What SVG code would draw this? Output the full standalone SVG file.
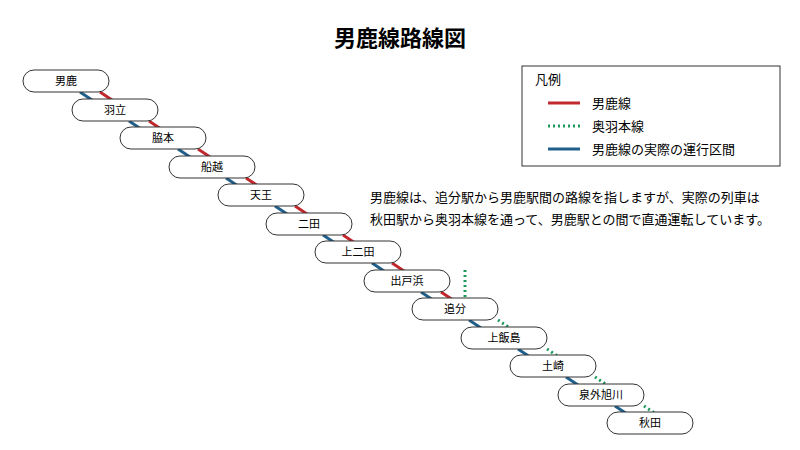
<svg xmlns="http://www.w3.org/2000/svg" width="800" height="450" viewBox="0 0 800 450">
<style>
text{font-family:"Noto Sans CJK JP","Noto Sans",sans-serif;fill:#000}
.n rect{fill:#fff;stroke:#333;stroke-width:1}
.n text{font-size:11px;text-anchor:middle}
.b{stroke:#1f5f8b;stroke-width:3}
.r{stroke:#c0282d;stroke-width:3}
.g{stroke:#1e9a5a;stroke-width:3;stroke-dasharray:2 3}
</style>
<rect width="800" height="450" fill="#fff"/>
<text x="400" y="46" font-size="22" font-weight="bold" text-anchor="middle">男鹿線路線図</text>
<g id="connectors">
<line class="b" x1="80" y1="92" x2="92" y2="100"/><line class="r" x1="100" y1="92" x2="112" y2="100"/>
<line class="b" x1="129" y1="121" x2="141" y2="129"/><line class="r" x1="149" y1="121" x2="161" y2="129"/>
<line class="b" x1="178" y1="149" x2="190" y2="157"/><line class="r" x1="198" y1="149" x2="210" y2="157"/>
<line class="b" x1="226" y1="178" x2="238" y2="186"/><line class="r" x1="246" y1="178" x2="258" y2="186"/>
<line class="b" x1="275" y1="206" x2="287" y2="214"/><line class="r" x1="295" y1="206" x2="307" y2="214"/>
<line class="b" x1="323" y1="235" x2="335" y2="243"/><line class="r" x1="343" y1="235" x2="355" y2="243"/>
<line class="b" x1="372" y1="263" x2="384" y2="271"/><line class="r" x1="392" y1="263" x2="404" y2="271"/>
<line class="b" x1="421" y1="292" x2="433" y2="300"/><line class="r" x1="441" y1="292" x2="453" y2="300"/>
<line class="g" x1="465" y1="270" x2="465" y2="298"/>
<line class="b" x1="469" y1="320" x2="481" y2="328"/><line class="g" x1="498" y1="320" x2="510" y2="328"/>
<line class="b" x1="518" y1="349" x2="530" y2="357"/><line class="g" x1="547" y1="349" x2="559" y2="357"/>
<line class="b" x1="566" y1="377" x2="578" y2="385"/><line class="g" x1="595" y1="377" x2="607" y2="385"/>
<line class="b" x1="615" y1="406" x2="627" y2="414"/><line class="g" x1="644" y1="406" x2="656" y2="414"/>
</g>
<g id="n0" class="n"><rect x="23" y="70" width="86" height="22" rx="11"/><text x="66" y="85">男鹿</text></g>
<g id="n1" class="n"><rect x="72" y="99" width="86" height="22" rx="11"/><text x="115" y="114">羽立</text></g>
<g id="n2" class="n"><rect x="120" y="127" width="86" height="22" rx="11"/><text x="163" y="142">脇本</text></g>
<g id="n3" class="n"><rect x="169" y="156" width="86" height="22" rx="11"/><text x="212" y="171">船越</text></g>
<g id="n4" class="n"><rect x="218" y="184" width="86" height="22" rx="11"/><text x="261" y="199">天王</text></g>
<g id="n5" class="n"><rect x="266" y="213" width="86" height="22" rx="11"/><text x="309" y="228">二田</text></g>
<g id="n6" class="n"><rect x="315" y="241" width="86" height="22" rx="11"/><text x="358" y="256">上二田</text></g>
<g id="n7" class="n"><rect x="364" y="270" width="86" height="22" rx="11"/><text x="407" y="285">出戸浜</text></g>
<g id="n8" class="n"><rect x="412" y="298" width="86" height="22" rx="11"/><text x="455" y="313">追分</text></g>
<g id="n9" class="n"><rect x="461" y="327" width="86" height="22" rx="11"/><text x="504" y="342">上飯島</text></g>
<g id="n10" class="n"><rect x="510" y="355" width="86" height="22" rx="11"/><text x="553" y="370">土崎</text></g>
<g id="n11" class="n"><rect x="558" y="384" width="86" height="22" rx="11"/><text x="601" y="399">泉外旭川</text></g>
<g id="n12" class="n"><rect x="607" y="412" width="86" height="22" rx="11"/><text x="650" y="427">秋田</text></g>
<g id="legend">
<rect x="522" y="66" width="258" height="100" fill="#fff" stroke="#333"/>
<text x="535" y="84" font-size="13">凡例</text>
<line class="r" x1="548" y1="103" x2="580" y2="103"/><text x="592" y="108" font-size="13">男鹿線</text>
<line class="g" x1="548" y1="126" x2="580" y2="126"/><text x="592" y="131" font-size="13">奥羽本線</text>
<line class="b" x1="548" y1="149" x2="580" y2="149"/><text x="592" y="154" font-size="13">男鹿線の実際の運行区間</text>
</g>
<text x="370" y="202" font-size="13">男鹿線は、追分駅から男鹿駅間の路線を指しますが、実際の列車は</text>
<text x="370" y="224" font-size="13">秋田駅から奥羽本線を通って、男鹿駅との間で直通運転しています。</text>
</svg>
